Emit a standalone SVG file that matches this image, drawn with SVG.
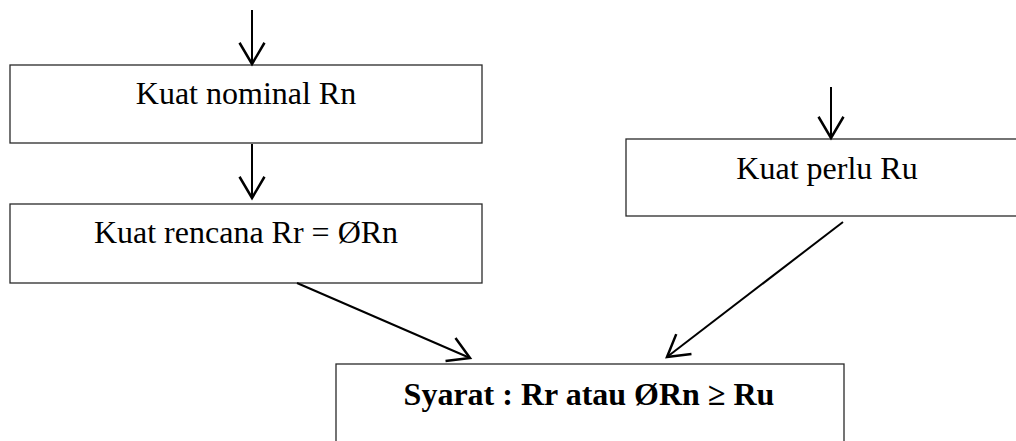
<svg xmlns="http://www.w3.org/2000/svg" width="1016" height="441" viewBox="0 0 1016 441">
  <style>
    .box { fill: #ffffff; stroke: #2a2a2a; stroke-width: 1.3; }
    .label { font-family: "Liberation Serif", "Times New Roman", serif; font-size: 32px; fill: #000; text-anchor: middle; }
    .bold { font-weight: bold; }
    .link { stroke: #000; stroke-width: 2; fill: none; marker-end: url(#open-arrow); }
  </style>
  <defs>
    <marker id="open-arrow" markerUnits="userSpaceOnUse" markerWidth="30" markerHeight="30" viewBox="-20 -12 22 24" refX="0" refY="0" orient="auto" overflow="visible">
      <path d="M -17 -10 L 0 0 L -17 10" fill="none" stroke="#000" stroke-width="2"/>
    </marker>
  </defs>
  <rect width="1016" height="441" fill="#ffffff"/>

  <g id="node-nominal">
    <rect class="box" x="10" y="65" width="472" height="78"/>
    <text class="label" x="246" y="104">Kuat nominal Rn</text>
  </g>

  <g id="node-rencana">
    <rect class="box" x="10" y="204" width="472" height="79"/>
    <text class="label" x="246" y="243">Kuat rencana Rr = ØRn</text>
  </g>

  <g id="node-perlu">
    <rect class="box" x="626" y="139" width="410" height="77"/>
    <text class="label" x="827" y="179">Kuat perlu Ru</text>
  </g>

  <g id="node-syarat">
    <rect class="box" x="336" y="364" width="508" height="100"/>
    <text class="label bold" x="589" y="405">Syarat : Rr atau ØRn ≥ Ru</text>
  </g>

  <g id="connectors">
    <line class="link" x1="252" y1="10" x2="252" y2="64"/>
    <line class="link" x1="252" y1="144" x2="252" y2="198"/>
    <line class="link" x1="831" y1="87" x2="831" y2="138"/>
    <line class="link" x1="297" y1="283" x2="470" y2="358"/>
    <line class="link" x1="843" y1="222" x2="667" y2="357"/>
  </g>
</svg>
